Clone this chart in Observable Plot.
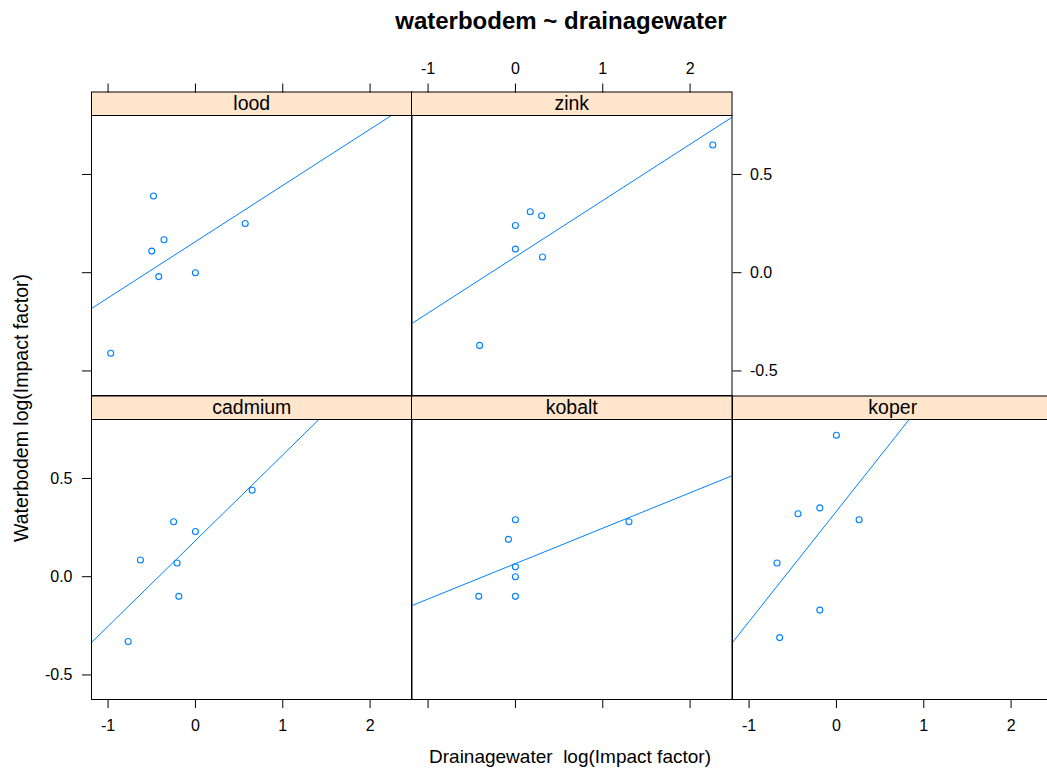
<!DOCTYPE html>
<html><head><meta charset="utf-8">
<script src="https://cdn.jsdelivr.net/npm/d3@7"></script>
<script src="https://cdn.jsdelivr.net/npm/@observablehq/plot@0.6"></script>
<style>
body{margin:0;background:#fff;}
#chart{position:relative;width:1047px;height:771px;overflow:hidden;background:#fff;font-family:"Liberation Sans",Arial,sans-serif;}
#chart > svg{position:absolute;}
</style></head><body><div id="chart"></div>
<script>
// ---- data ----
const panels = ["lood", "zink", "cadmium", "kobalt", "koper"];
const loodX    = [-0.48, -0.36, -0.50, -0.42, 0.00, 0.57, -0.97];
const loodY    = [0.39, 0.168, 0.11, -0.02, 0.00, 0.25, -0.41];
const zinkX    = [2.26, 0.17, 0.30, 0.00, 0.00, 0.31, -0.41];
const zinkY    = [0.65, 0.31, 0.29, 0.24, 0.12, 0.08, -0.37];
const cadmiumX = [0.65, -0.25, 0.00, -0.63, -0.21, -0.19, -0.77];
const cadmiumY = [0.44, 0.28, 0.23, 0.085, 0.07, -0.10, -0.33];
const kobaltX  = [0.00, -0.08, 0.00, 0.00, 0.00, -0.42, 1.30];
const kobaltY  = [0.29, 0.19, 0.05, 0.00, -0.10, -0.10, 0.28];
const koperX   = [0.00, -0.44, -0.19, 0.26, -0.68, -0.19, -0.65];
const koperY   = [0.72, 0.32, 0.35, 0.29, 0.07, -0.17, -0.31];
const xTicks = [-1, 0, 1, 2];
const yTicks = [-0.5, 0, 0.5];
const titleText = "waterbodem ~ drainagewater";
const xLabelText = "Drainagewater  log(Impact factor)";
const yLabelText = "Waterbodem log(Impact factor)";

const seriesX = {lood: loodX, zink: zinkX, cadmium: cadmiumX, kobalt: kobaltX, koper: koperX};
const seriesY = {lood: loodY, zink: zinkY, cadmium: cadmiumY, kobalt: kobaltY, koper: koperY};

// ---- layout / style ----
const xDomain = [-1.19, 2.48];
const yDomain = [-0.625, 0.80];
const W = 320.5, H = 280, S = 23.5, M = 60;
const colLeft = [90.5, 411, 731.5];
const rowTop = [114.5, 418.8];
const layout = {
  lood:    {col: 0, row: 0, axes: {top: false, left: false}},
  zink:    {col: 1, row: 0, axes: {top: true, right: true}},
  cadmium: {col: 0, row: 1, axes: {left: true, bottom: true}},
  kobalt:  {col: 1, row: 1, axes: {bottom: false}},
  koper:   {col: 2, row: 1, axes: {bottom: true, right: false}}
};
const blue = "#0080ff";
const fmtX = d => String(d);
const fmtY = d => d.toFixed(1);
const blank = () => "";
const chart = document.getElementById("chart");

for (const name of panels) {
  const xs = seriesX[name], ys = seriesY[name];
  const data = xs.map((x, i) => ({x, y: ys[i]}));
  const mx = d3.mean(xs), my = d3.mean(ys);
  const b = d3.sum(xs, (x, i) => (x - mx) * (ys[i] - my)) / d3.sum(xs, x => (x - mx) ** 2);
  const a = my - b * mx;
  const fit = xDomain.map(x => ({x, y: a + b * x}));
  const L = layout[name];
  const marks = [
    Plot.frame({fill: "#ffe5cc", stroke: "black", strokeWidth: 1, insetTop: -S, insetBottom: H}),
    Plot.text([name], {text: d => d, frameAnchor: "top", dy: -S / 2, lineAnchor: "middle", fontSize: 19.5, fill: "black"}),
    Plot.line(fit, {x: "x", y: "y", stroke: blue, strokeWidth: 1, clip: true}),
    Plot.dot(data, {x: "x", y: "y", r: 3, stroke: blue, strokeWidth: 1.1, fill: "none"}),
    Plot.frame({stroke: "black", strokeWidth: 1})
  ];
  const ax = L.axes;
  if ("top" in ax) marks.push(Plot.axisX(xTicks, {anchor: "top", tickSize: 9, tickPadding: 9, dy: -S, tickFormat: ax.top ? fmtX : blank, label: null, fontSize: 16, stroke: "black", fill: "black"}));
  if ("bottom" in ax) marks.push(Plot.axisX(xTicks, {anchor: "bottom", tickSize: 9, tickPadding: 11, tickFormat: ax.bottom ? fmtX : blank, label: null, fontSize: 16, stroke: "black", fill: "black"}));
  if ("left" in ax) marks.push(Plot.axisY(yTicks, {anchor: "left", tickSize: 9, tickPadding: 10, tickFormat: ax.left ? fmtY : blank, label: null, fontSize: 16, stroke: "black", fill: "black"}));
  if ("right" in ax) marks.push(Plot.axisY(yTicks, {anchor: "right", tickSize: 9, tickPadding: 9, tickFormat: ax.right ? fmtY : blank, label: null, fontSize: 16, stroke: "black", fill: "black"}));
  const svg = Plot.plot({
    width: W + 2 * M, height: H + 2 * M, margin: M,
    x: {domain: xDomain, axis: null, label: null},
    y: {domain: yDomain, axis: null, label: null},
    style: {background: "transparent", overflow: "visible", color: "black", fontFamily: "'Liberation Sans', Arial, sans-serif", fontSize: "16px"},
    marks
  });
  svg.style.left = (colLeft[L.col] - M) + "px";
  svg.style.top = (rowTop[L.row] - M) + "px";
  chart.appendChild(svg);
}

const over = d3.select(chart).append("svg")
  .attr("width", 1047).attr("height", 771)
  .style("left", "0px").style("top", "0px")
  .style("font-family", "'Liberation Sans', Arial, sans-serif");
over.append("text").attr("x", 561).attr("y", 29).attr("text-anchor", "middle")
  .attr("font-weight", "bold").attr("font-size", 24).attr("fill", "black").text(titleText);
over.append("text").attr("x", 570).attr("y", 763).attr("text-anchor", "middle")
  .attr("font-size", 19).attr("fill", "black").style("white-space", "pre").text(xLabelText);
over.append("text").attr("transform", "translate(27.5,408) rotate(-90)").attr("text-anchor", "middle")
  .attr("font-size", 19.5).attr("fill", "black").text(yLabelText);
</script></body></html>
